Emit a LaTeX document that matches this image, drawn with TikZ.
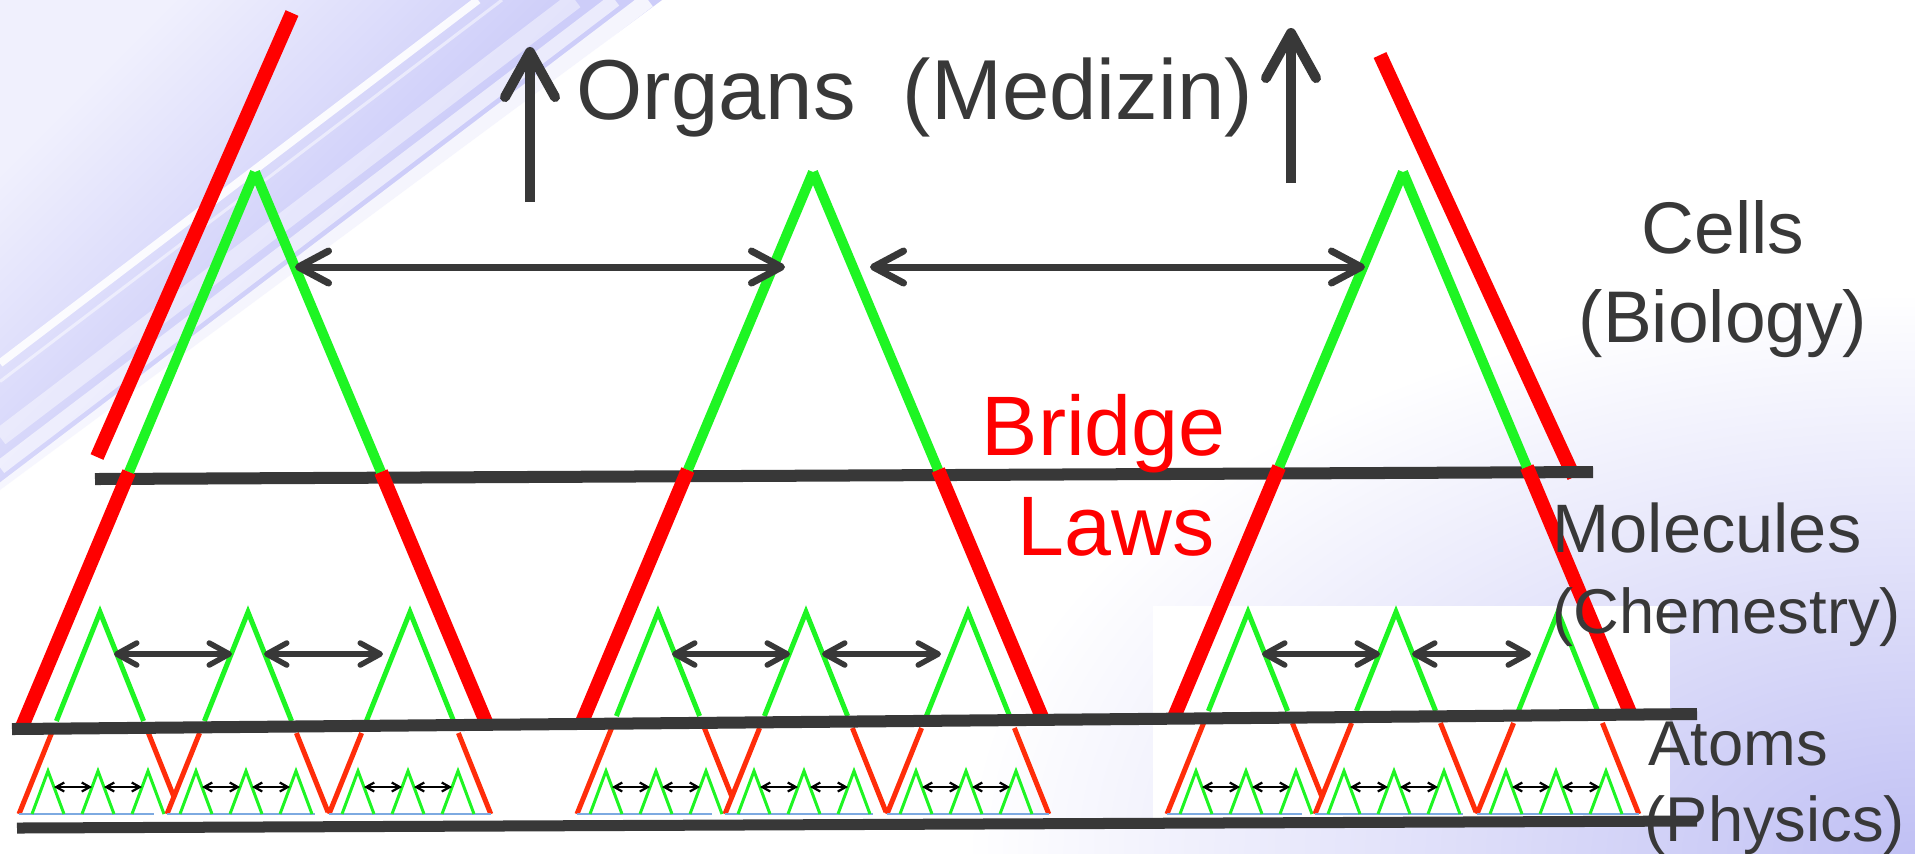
\documentclass[tikz,border=0pt]{standalone}
\usepackage{fontspec}
\setmainfont{Liberation Sans}
\usetikzlibrary{arrows.meta}

\definecolor{ink}{RGB}{56,56,56}
\definecolor{leafgreen}{RGB}{30,245,35}
\definecolor{lawred}{RGB}{255,0,0}
\definecolor{lowred}{RGB}{255,45,10}
\definecolor{groundblue}{RGB}{125,170,225}
\definecolor{lav}{RGB}{205,205,249}
\definecolor{lavlight}{RGB}{240,240,253}
\definecolor{lavdeep}{RGB}{192,192,244}

\begin{document}
\begin{tikzpicture}[
    x=0.01cm, y=-0.01cm,
    level/.style={ink, line width=0.12cm},
    bigup/.style={leafgreen, line width=0.1cm},
    biglow/.style={lawred, line width=0.14cm},
    midup/.style={leafgreen, line width=0.05cm},
    midlow/.style={lowred, line width=0.05cm},
    smallup/.style={leafgreen, line width=0.03cm},
    groundline/.style={groundblue, line width=0.015cm},
    bigarr/.style={ink, line width=0.07cm,
        {Straight Barb[round,length=0.3cm,width=0.32cm]}-{Straight Barb[round,length=0.3cm,width=0.32cm]}},
    midarr/.style={ink, line width=0.055cm,
        {Straight Barb[round,length=0.2cm,width=0.22cm]}-{Straight Barb[round,length=0.2cm,width=0.22cm]}},
    smallarr/.style={black, line width=0.022cm,
        {Straight Barb[length=0.08cm,width=0.09cm]}-{Straight Barb[length=0.08cm,width=0.09cm]}},
    uparr/.style={ink, line width=0.1cm, -{Straight Barb[round,length=0.45cm,width=0.5cm]}},
    levelname/.style={ink, inner sep=0pt, anchor=base west, font=\fontsize{18}{21}\selectfont},
    cellname/.style={ink, inner sep=0pt, anchor=base, font=\fontsize{20.8}{24}\selectfont}
]

%% ---- backdrop ---------------------------------------------------
\useasboundingbox (0,0) rectangle (1915,853);
\fill[white] (0,0) rectangle (1915,853);
\begin{scope}
  \clip (0,0) rectangle (1915,853);
  \shade[inner color=lavdeep, outer color=white] (1915,853) ellipse (950 and 560);
\end{scope}
\shade[top color=lavlight, bottom color=lav, middle color=lav, shading angle=45]
  (0,0) -- (662,0) -- (0,490) -- cycle;
\foreach \o/\w/\op in {478/8/0.9, 502/3/0.5, 575/18/0.45, 615/14/0.6, 648/16/0.8}
  \draw[white, opacity=\op, line width=\w*0.01cm] (\o,0) -- (0,{\o*0.76});
% white panel behind the right lower levels
\fill[white] (1153,606) rectangle (1670,826);

%% ---- organ level ------------------------------------------------
\draw[biglow] (292,13) -- (97,457);
\draw[biglow] (1380,55) -- (1574,477);
\draw[level] (95,479) -- (1593,472);

\foreach \ux/\my/\ay [count=\ui] in {255/478/727, 813/476/722, 1403/473/717}{
  \coordinate (apex\ui) at (\ux,172);
  \coordinate (molL\ui) at ({\ux-0.42*(\my-178)},{\my-6});
  \coordinate (molR\ui) at ({\ux+0.42*(\my-178)},{\my-6});
  \coordinate (atmL\ui) at ({\ux-0.42*(\ay-172)},\ay);
  \coordinate (atmR\ui) at ({\ux+0.42*(\ay-172)},\ay);
  \draw[bigup] (apex\ui) -- (molL\ui);
  \draw[bigup] (apex\ui) -- (molR\ui);
  \draw[biglow] (molL\ui) -- (atmL\ui);
  \draw[biglow] (molR\ui) -- (atmR\ui);
}

%% ---- cell and molecule levels -----------------------------------
\foreach \ux/\ay in {255/727, 813/722, 1403/717}{
  \foreach \mo/\re/\bl in {-155/797/54, -7/812/67, 155/814/81}{
    \pgfmathsetmacro\mx{\ux+\mo}
    \draw[midup] ({\mx-0.4*(\ay-618)},{\ay-6}) -- (\mx,612) -- ({\mx+0.4*(\ay-618)},{\ay-6});
    \draw[midlow] ({\mx-0.4*(\ay-606)},{\ay+6}) -- ({\mx-81},814);
    \draw[midlow] ({\mx+0.4*(\ay-606)},{\ay+6}) -- ({\mx+0.4*(\re-612)},\re);
    \draw[groundline] ({\mx-81},814) -- ({\mx+\bl},814);
    \foreach \so in {-52,-2,48}
      \draw[smallup] ({\mx+\so-16},814) -- ({\mx+\so},771) -- ({\mx+\so+16},814);
    \draw[smallarr] ({\mx-46},787) -- ({\mx-8},787);
    \draw[smallarr] ({\mx+4},787) -- ({\mx+42},787);
  }
  \draw[midarr] ({\ux-141},654) -- ({\ux-23},654);
  \draw[midarr] ({\ux+9},654) -- ({\ux+128},654);
}

\coordinate (linkA) at (295,267);
\coordinate (linkB) at (785,267);
\coordinate (linkC) at (870,267);
\coordinate (linkD) at (1365,267);
\draw[bigarr] (linkA) -- (linkB);
\draw[bigarr] (linkC) -- (linkD);

%% ---- atom level -------------------------------------------------
\draw[level] (12,729) -- (1697,714);
\draw[level, line width=0.11cm] (17,828) -- (1697,821);

%% ---- arrows and labels ------------------------------------------
\coordinate (upA) at (530,202);
\coordinate (upB) at (1291,183);
\draw[uparr] (upA) -- ++(0,-155);
\draw[uparr] (upB) -- ++(0,-155);

\node[ink, inner sep=0pt, anchor=base west, font=\fontsize{24.2}{28}\selectfont]
  (organs) at (576,119) {Organs\ \ (Medizin)};
\node[lawred, inner sep=0pt, anchor=base west, font=\fontsize{24}{28}\selectfont]
  (bridge) at (981,455) {Bridge};
\node[lawred, inner sep=0pt, anchor=base west, font=\fontsize{24}{28}\selectfont]
  (laws) at (1017,555) {Laws};

\node[cellname] (cells) at (1723,253) {Cells};
\node[cellname] (biology) at (1723,342) {(Biology)};
\node[levelname, font=\fontsize{19.5}{23}\selectfont] (molecules) at (1552,552) {Molecules};
\node[levelname] (chemestry) at (1552,633) {(Chemestry)};
\node[levelname] (atoms) at (1648,765) {Atoms};
\node[levelname] (physics) at (1644,841) {(Physics)};

\end{tikzpicture}
\end{document}
